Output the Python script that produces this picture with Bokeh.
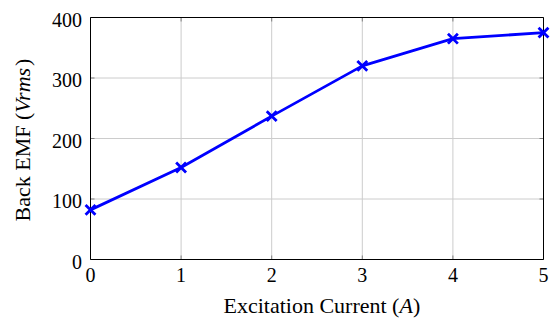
import math
from bokeh.plotting import figure
from bokeh.models import Range1d
from bokeh.core.properties import value
from bokeh.embed import file_html
from bokeh.resources import INLINE

# Back EMF versus excitation current
current = [0, 1, 2, 3, 4, 5]
emf = [82, 152, 237, 320, 365, 375]

x_ticks = [0, 1, 2, 3, 4, 5]
y_ticks = [0, 100, 200, 300, 400]
x_lim = (0, 5)
y_lim = (0, 400)

FONT = "Liberation Serif"
FS = "20px"
TITLE_FS = "22px"
BLUE = "#0000ff"
GRID = "#cccccc"
TICK = "#808080"

# canvas and axis-box geometry in pixels; the whole canvas is the frame so
# nothing drawn around the box gets clipped
W, H = 552, 322
BOX_L, BOX_R, BOX_T, BOX_B = 90, 543, 17, 259
sx = (BOX_R - BOX_L) / (x_lim[1] - x_lim[0])
sy = (BOX_B - BOX_T) / (y_lim[1] - y_lim[0])


def px_to_x(px):
    return x_lim[0] + (px - BOX_L) / sx


def py_to_y(py):
    return y_lim[0] + (BOX_B - py) / sy


p = figure(
    width=W, height=H,
    x_range=Range1d(px_to_x(0), px_to_x(W)),
    y_range=Range1d(py_to_y(H), py_to_y(0)),
    output_backend="svg", toolbar_location=None,
    x_axis_type=None, y_axis_type=None, min_border=0,
)
p.outline_line_color = None
p.xgrid.visible = False
p.ygrid.visible = False
p.background_fill_color = "white"
p.border_fill_color = "white"

# grid lines at interior ticks
gx = [t for t in x_ticks if x_lim[0] < t < x_lim[1]]
gy = [t for t in y_ticks if y_lim[0] < t < y_lim[1]]
p.segment(x0=gx, y0=[y_lim[0]] * len(gx), x1=gx, y1=[y_lim[1]] * len(gx),
          line_color=GRID, line_width=1)
p.segment(x0=[x_lim[0]] * len(gy), y0=gy, x1=[x_lim[1]] * len(gy), y1=gy,
          line_color=GRID, line_width=1)

# inward tick marks on all four sides (4 px long)
nx, ny = len(x_ticks), len(y_ticks)
tick_kw = dict(length=4, length_units="screen", line_color=TICK, line_width=1)
p.ray(x=x_ticks, y=[y_lim[0]] * nx, angle=math.pi / 2, **tick_kw)
p.ray(x=x_ticks, y=[y_lim[1]] * nx, angle=-math.pi / 2, **tick_kw)
p.ray(x=[x_lim[0]] * ny, y=y_ticks, angle=0, **tick_kw)
p.ray(x=[x_lim[1]] * ny, y=y_ticks, angle=math.pi, **tick_kw)

# axis box
p.quad(left=[x_lim[0]], right=[x_lim[1]], bottom=[y_lim[0]], top=[y_lim[1]],
       fill_color=None, line_color="black", line_width=1)

# tick labels
text_kw = dict(text_font=value(FONT), text_color="black")
p.text(x=x_ticks, y=[y_lim[0]] * nx, text=[str(t) for t in x_ticks],
       text_align="center", text_baseline="alphabetic", y_offset=15,
       text_font_size=FS, **text_kw)
p.text(x=[x_lim[0]] * ny, y=y_ticks, text=[str(t) for t in y_ticks],
       text_align="right", text_baseline="alphabetic", x_offset=-8.5,
       y_offset=2, text_font_size=FS, **text_kw)

# data
p.line(current, emf, line_color=BLUE, line_width=2.8)
p.scatter(current, emf, marker="x", size=14, line_color=BLUE, line_width=2.8)


# axis titles, composed of upright and italic pieces
def piece(text, px, py, style="normal", angle=0.0):
    p.text(x=[px_to_x(px)], y=[py_to_y(py)], text=[text],
           text_font_style=style, angle=angle, text_align="left",
           text_baseline="alphabetic", text_font_size=TITLE_FS, **text_kw)


# x title: "Excitation Current (A)"
xt_start, xt_base = 223, 304.5
piece("Excitation Current (", xt_start, xt_base)
piece("A", xt_start + 176.0, xt_base, style="italic")
piece(")", xt_start + 189.6, xt_base)

# y title: "Back EMF (Vrms)", reading upwards
yt_start, yt_base = 221, 21.5
rot = math.pi / 2
piece("Back EMF (", yt_base, yt_start, angle=rot)
piece("Vrms", yt_base, yt_start - 108.8, style="italic", angle=rot)
piece(")", yt_base, yt_start - 155.4, angle=rot)

open("out.html", "w").write(file_html(p, INLINE))
